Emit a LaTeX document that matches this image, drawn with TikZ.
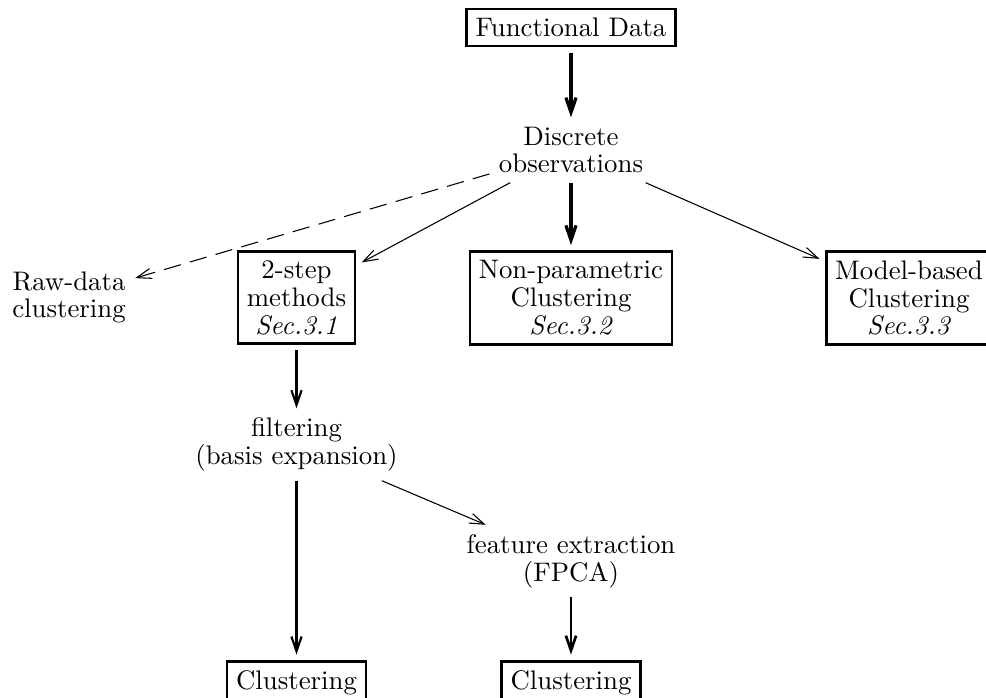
\documentclass[tikz,border=0pt]{standalone}
\usepackage{tikz}
\usetikzlibrary{arrows.meta}

\begin{document}
\begin{tikzpicture}[x=.373pt,y=-.373pt,
	every node/.style={font=\fontsize{10}{10.4}\selectfont},
	box/.style={draw,line width=1pt,align=center,outer sep=2.5pt},
	txt/.style={align=center},
	>={Straight Barb[length=5.5pt,width=3.8pt]}]
	\useasboundingbox (0,0) rectangle (986,698);

	\node[box] (fd) at (571,27.5) {Functional Data};
	\node[txt] (obs) at (571,150) {Discrete\\observations};

	\node[txt] (raw) at (69,297.5) {Raw-data\\clustering};
	\node[box] (two) at (296.5,297.5) {2-step\\methods\\\textit{Sec.3.1}};
	\node[box] (np) at (571,298) {Non-parametric\\Clustering\\\textit{Sec.3.2}};
	\node[box] (mb) at (909,298) {Model-based\\Clustering\\\textit{Sec.3.3}};

	\node[txt] (filt) at (296.5,444.5) {filtering\\(basis expansion)};
	\node[txt] (feat) at (571,561) {feature extraction\\(FPCA)};

	\node[box] (cl1) at (296.5,682.4) {Clustering};
	\node[box] (cl2) at (571,682.4) {Clustering};

	\draw[->,very thick] (fd) -- (obs);
	\draw[->,dash pattern=on 6.5pt off 3.5pt] (obs) -- (raw);
	\draw[->] (obs) -- (two);
	\draw[->,very thick] (obs) -- (np);
	\draw[->] (obs) -- (mb);
	\draw[->,thick] (two) -- (filt);
	\draw[->,thick] (filt) -- (cl1);
	\draw[->] (filt) -- (feat);
	\draw[->,line width=1pt] (feat) -- (cl2);
\end{tikzpicture}
\end{document}
